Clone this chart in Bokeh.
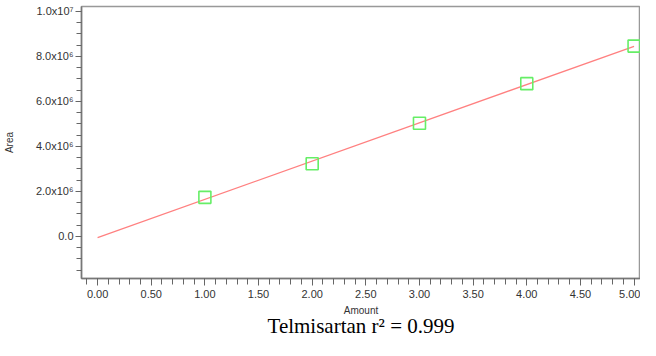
import numpy as np
from bokeh.plotting import figure
from bokeh.models import FixedTicker, LinearAxis, Range1d
from bokeh.embed import file_html
from bokeh.resources import INLINE

# Data
amount = [1.0, 2.0, 3.0, 4.0, 5.0]
area = [1.736e6, 3.23e6, 5.03e6, 6.79e6, 8.46e6]

x_ticks = [0.0, 0.5, 1.0, 1.5, 2.0, 2.5, 3.0, 3.5, 4.0, 4.5, 5.0]
x_tick_labels = ["0.00", "0.50", "1.00", "1.50", "2.00", "2.50", "3.00", "3.50", "4.00", "4.50", "5.00"]
y_ticks = [0, 2e6, 4e6, 6e6, 8e6, 1e7]
y_tick_labels = ["0.0", "2.0x10\u2076", "4.0x10\u2076", "6.0x10\u2076", "8.0x10\u2076", "1.0x10\u2077"]
caption = "Telmisartan r\u00b2 = 0.999"

# Regression line from the data
slope, intercept = np.polyfit(amount, area, 1)
fit_x = [0.0, 5.0]
fit_y = [intercept + slope * v for v in fit_x]

p = figure(width=640, height=340, output_backend="svg", toolbar_location=None,
           x_range=Range1d(-0.15, 5.06), y_range=Range1d(-1.87e6, 1.022e7),
           min_border_left=80, min_border_right=0, min_border_top=6, min_border_bottom=0)

p.grid.visible = False
p.background_fill_color = "white"
p.border_fill_color = "white"
p.outline_line_color = "#999999"
p.outline_line_width = 1.5

p.line(fit_x, fit_y, line_color="#ff8080", line_width=1.3)
p.scatter(amount, area, marker="square", size=12, fill_color=None,
          line_color="#66ee66", line_width=1.6)

# x axis
xa = p.xaxis[0]
xa.ticker = FixedTicker(ticks=x_ticks, minor_ticks=[round(-0.1 + 0.1 * i, 2) for i in range(52)])
xa.major_label_overrides = {t: l for t, l in zip(x_ticks, x_tick_labels)}
xa.axis_label = "Amount"
xa.axis_label_text_font = "Liberation Sans"
xa.axis_label_text_font_size = "10px"
xa.axis_label_text_font_style = "normal"
xa.axis_label_text_color = "#333333"
xa.axis_label_standoff = 4
xa.major_label_text_font = "Liberation Sans"
xa.major_label_text_font_size = "11px"
xa.major_label_text_color = "#333333"
xa.major_label_standoff = 4
xa.major_tick_out = 7
xa.major_tick_in = 0
xa.minor_tick_out = 6
xa.minor_tick_in = 0
xa.axis_line_color = "#777777"
xa.axis_line_width = 1.5
xa.major_tick_line_color = "#666666"
xa.minor_tick_line_color = "#666666"

# y axis
ya = p.yaxis[0]
ya.ticker = FixedTicker(ticks=y_ticks, minor_ticks=[-1.5e6 + 5e5 * i for i in range(25)])
ya.major_label_overrides = {t: l for t, l in zip(y_ticks, y_tick_labels)}
ya.axis_label = "Area"
ya.axis_label_text_font = "Liberation Sans"
ya.axis_label_text_font_size = "10px"
ya.axis_label_text_font_style = "normal"
ya.axis_label_text_color = "#333333"
ya.axis_label_standoff = 18
ya.major_label_text_font = "Liberation Sans"
ya.major_label_text_font_size = "11px"
ya.major_label_text_color = "#333333"
ya.major_label_standoff = 2
ya.major_label_orientation = "horizontal"
ya.major_tick_out = 6
ya.major_tick_in = 0
ya.minor_tick_out = 5
ya.minor_tick_in = 0
ya.axis_line_color = "#777777"
ya.axis_line_width = 1.5
ya.major_tick_line_color = "#666666"
ya.minor_tick_line_color = "#666666"

# caption as an empty axis below the x axis
cap = LinearAxis(ticker=FixedTicker(ticks=[]), axis_line_color=None,
                 major_tick_line_color=None, minor_tick_line_color=None,
                 major_label_text_font_size="0px", major_label_standoff=0,
                 major_tick_out=0, minor_tick_out=0, major_tick_in=0, minor_tick_in=0,
                 axis_label=caption, axis_label_standoff=-5,
                 axis_label_text_font="Liberation Serif", axis_label_text_font_size="21px",
                 axis_label_text_font_style="normal", axis_label_text_color="black")
p.add_layout(cap, "below")

open("out.html", "w").write(file_html(p, INLINE))
